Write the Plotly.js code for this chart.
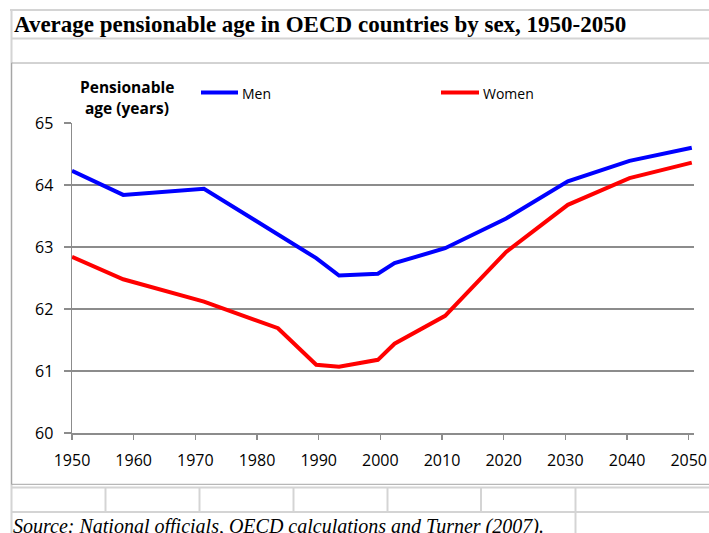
<!DOCTYPE html>
<html>
<head>
<meta charset="utf-8">
<script src="https://cdn.plot.ly/plotly-3.0.1.min.js"></script>
<style>
html,body{margin:0;padding:0;background:#fff;}
#chart{width:709px;height:533px;}
</style>
</head>
<body>
<div id="chart"></div>
<script>
// ---- data ----
var menYears   = [1950, 1958.3, 1971.4, 1989.6, 1993.3, 1999.6, 2002.3, 2010.5, 2020.4, 2030.4, 2040.4, 2050.5];
var menAge     = [64.23, 63.84, 63.94, 62.82, 62.54, 62.57, 62.74, 62.98, 63.46, 64.06, 64.39, 64.60];
var womenYears = [1950, 1958.3, 1971.4, 1983.4, 1989.6, 1993.3, 1999.6, 2002.3, 2010.5, 2020.4, 2030.4, 2040.4, 2050.5];
var womenAge   = [62.84, 62.48, 62.12, 61.69, 61.10, 61.07, 61.18, 61.44, 61.89, 62.92, 63.68, 64.11, 64.36];
var xTicks     = [1950, 1960, 1970, 1980, 1990, 2000, 2010, 2020, 2030, 2040, 2050];
var yTicks     = [60, 61, 62, 63, 64, 65];
var seriesNames = ['Men', 'Women'];
var titleText  = 'Average pensionable age in OECD countries by sex, 1950-2050';
var yLabelLines = ['Pensionable', 'age (years)'];
var sourceText = 'Source: National officials, OECD calculations and Turner (2007).';

// ---- layout geometry (pixels -> paper) ----
var W = 709, H = 533, ML = 72, MR = 15, MT = 123, MB = 100;
var PW = W - ML - MR, PH = H - MT - MB;
function px(x){ return (x - ML) / PW; }
function py(y){ return (H - MB - y) / PH; }

var light = '#d4d4d4';
function hline(y, x0, x1, color, w){
  return {type:'line', xref:'paper', yref:'paper', x0:px(x0), x1:px(x1), y0:py(y), y1:py(y),
          line:{color:color, width:w}, layer:'below'};
}
function vline(x, y0, y1, color, w){
  return {type:'line', xref:'paper', yref:'paper', x0:px(x), x1:px(x), y0:py(y0), y1:py(y1),
          line:{color:color, width:w}, layer:'below'};
}

var shapes = [
  hline(10, 10, 720, light, 2),
  vline(11.5, 10, 540, light, 2),
  hline(38.5, 11, 720, light, 2),
  {type:'rect', xref:'paper', yref:'paper', x0:px(11.5), x1:px(715), y0:py(63), y1:py(484.3),
   line:{color:'#a6a6a6', width:1}, layer:'below'},
  hline(487.5, 11, 720, light, 2),
  hline(512, 11, 720, light, 2),
  vline(105.5, 487.5, 512, light, 2),
  vline(199.5, 487.5, 512, light, 2),
  vline(293.5, 487.5, 512, light, 2),
  vline(387.5, 487.5, 512, light, 2),
  vline(481, 487.5, 512, light, 2),
  vline(575.5, 487.5, 540, light, 2),
  // legend samples
  {type:'line', xref:'paper', yref:'paper', x0:px(201), x1:px(238), y0:py(92.5), y1:py(92.5),
   line:{color:'#0000FF', width:4}},
  {type:'line', xref:'paper', yref:'paper', x0:px(441), x1:px(479), y0:py(92.5), y1:py(92.5),
   line:{color:'#FF0000', width:4}}
];

var labelFont = {family:'Open Sans, sans-serif', size:15.5, color:'#000'};
var annotations = [
  {xref:'paper', yref:'paper', x:px(12), y:py(25), xanchor:'left', yanchor:'middle',
   text:'<b>'+titleText+'</b>', showarrow:false,
   font:{family:'Liberation Serif, Times New Roman, serif', size:23, color:'#000'}},
  {xref:'paper', yref:'paper', x:px(127), y:py(86.5), xanchor:'center', yanchor:'middle',
   text:'<b>'+yLabelLines[0]+'</b>', showarrow:false, font:labelFont},
  {xref:'paper', yref:'paper', x:px(127), y:py(108.5), xanchor:'center', yanchor:'middle',
   text:'<b>'+yLabelLines[1]+'</b>', showarrow:false, font:labelFont},
  {xref:'paper', yref:'paper', x:px(240), y:py(93), xanchor:'left', yanchor:'middle',
   text:seriesNames[0], showarrow:false,
   font:{family:'Open Sans, sans-serif', size:14, color:'#000'}},
  {xref:'paper', yref:'paper', x:px(481), y:py(93), xanchor:'left', yanchor:'middle',
   text:seriesNames[1], showarrow:false,
   font:{family:'Open Sans, sans-serif', size:14, color:'#000'}},
  {xref:'paper', yref:'paper', x:px(11), y:py(526), xanchor:'left', yanchor:'middle',
   text:'<i>'+sourceText+'</i>', showarrow:false,
   font:{family:'Liberation Serif, Times New Roman, serif', size:20, color:'#000'}}
];

var traces = [
  {x:menYears, y:menAge, name:seriesNames[0], type:'scatter', mode:'lines',
   line:{color:'#0000FF', width:4}},
  {x:womenYears, y:womenAge, name:seriesNames[1], type:'scatter', mode:'lines',
   line:{color:'#FF0000', width:4}}
];

var layout = {
  width:W, height:H,
  margin:{l:ML, r:MR, t:MT, b:MB, pad:0},
  paper_bgcolor:'#fff', plot_bgcolor:'#fff',
  showlegend:false,
  xaxis:{range:[1950, 2050.86], tickvals:xTicks, ticktext:xTicks.map(String),
         ticks:'outside', ticklen:5, tickcolor:'#8c8c8c', tickwidth:1.5,
         showline:true, linecolor:'#8c8c8c', linewidth:1.5,
         showgrid:false, zeroline:false, ticklabelstandoff:7,
         tickfont:{family:'Open Sans, sans-serif', size:16, color:'#000'}},
  yaxis:{range:[60, 65], tickvals:yTicks, ticktext:yTicks.map(String),
         ticks:'outside', ticklen:7, tickcolor:'#8c8c8c', tickwidth:1.5,
         showline:true, linecolor:'#8c8c8c', linewidth:1.5,
         showgrid:true, gridcolor:'#8c8c8c', gridwidth:1.5, zeroline:false,
         ticklabelstandoff:7,
         tickfont:{family:'Open Sans, sans-serif', size:16, color:'#000'}},
  shapes:shapes,
  annotations:annotations
};

Plotly.newPlot('chart', traces, layout, {displayModeBar:false, staticPlot:true});
</script>
</body>
</html>
